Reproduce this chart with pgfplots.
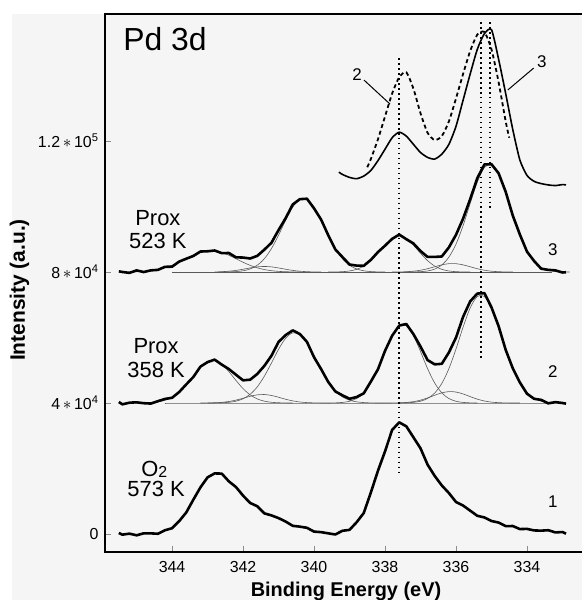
\documentclass[border=0pt]{standalone}
\usepackage{fontspec}
\setmainfont{Liberation Sans}
\usepackage{pgfplots}
\usepackage{pgfplotstable}
\pgfplotsset{compat=1.18}
\newcommand{\fs}[1]{\fontsize{#1}{#1}\selectfont}
\tikzset{lab/.style={anchor=base, inner sep=0pt}}

% binding energy, O2 573 K (1), Prox 358 K (2), Prox 523 K (3)
\pgfplotstableread{
x s1 s2 s3
345.5 300 40300 80210
345.4 -200 39600 80016
345.2 100 40100 79741
345.0 -400 40210 80495
344.8 200 39945 80000
344.6 190 39830 80506
344.4 70 40550 80654
344.2 1140 41245 81587
344.0 1760 41590 81635
343.8 3920 43350 83190
343.6 6580 45690 84060
343.4 10500 47955 84915
343.2 14250 51120 86260
343.0 17300 52495 86335
342.8 18500 53250 86574
342.6 18440 51720 85766
342.4 16070 50370 85808
342.2 14340 48640 84491
342.0 11720 46930 84418
341.8 9470 47120 84130
341.6 8480 48860 84931
341.4 6300 51340 86824
341.2 5680 54440 88935
341.0 4850 58640 92800
340.8 3800 60750 96445
340.6 2490 62180 100637
340.4 2250 61070 102249
340.2 1890 58680 102391
340.0 730 53985 99439
339.8 560 50340 96000
339.6 200 46430 91250
339.4 -150 43530 86887
339.2 980 42350 84579
339.0 1260 41290 82289
338.8 3590 41830 81965
338.6 6380 42930 81893
338.4 12640 46540 83700
338.2 19280 50260 86087
338.0 25230 55925 88039
337.8 31770 60540 90130
337.6 34100 63650 91434
337.4 32880 64125 90031
337.2 29530 61040 88724
337.0 26160 57240 86400
336.8 21160 53100 84606
336.6 17730 51810 84612
336.4 14820 51970 84752
336.2 12500 55440 87524
336.0 9770 59980 91374
335.8 8680 66320 96309
335.6 7120 71040 102262
335.4 5560 73420 108667
335.2 5050 73560 112857
335.0 3970 69210 112920
334.8 3490 63475 110164
334.6 2410 56234 104488
334.4 2430 50590 97223
334.2 1500 46270 91454
334.0 1560 42840 86236
333.8 1090 41290 83368
333.6 1020 40950 81019
333.4 1150 39900 80661
333.2 480 40265 80498
333.0 600 40000 79859
332.9 100 39800 79930
}\spectra

\begin{document}
\begin{tikzpicture}
\fill[black!4] (-93bp,-48bp) rectangle (477bp,538bp);
\begin{axis}[name=ax, at={(0,0)}, anchor=south west,
  scale only axis, width=477bp, height=538bp,
  xmin=332.45, xmax=345.89, x dir=reverse,
  ymin=-5500, ymax=158800,
  axis line style={draw=none}, tick pos=left, tick align=inside,
  xtick={334,336,338,340,342,344}, scaled x ticks=false,
  ytick={0,40000,80000,120000}, scaled y ticks=false,
  yticklabels={0, 4\,$\ast$\,10\textsuperscript{4}, 8\,$\ast$\,10\textsuperscript{4}, 1.2\,$\ast$\,10\textsuperscript{5}},
  major tick length=6bp, major tick style={black!45, line width=0.8pt},
  /pgf/number format/assume math mode=true,
  xticklabel style={font=\fs{16}, yshift=-6bp},
  yticklabel style={font=\fs{16}, xshift=-3bp},
  clip=false,
  comp/.style={black!65, line width=0.6pt, smooth},
  data/.style={black, line width=2.6pt, line join=round},
  dotline/.style={black, line width=1.6pt, dash pattern=on 1.6pt off 3.4pt}]

% fit baselines
\addplot[comp] coordinates {(344.2,40000) (333.4,40000)};
\addplot[comp] coordinates {(344.0,80000) (333.3,80000)};

% fit components, Prox 358 K
\addplot[comp] coordinates {(345.2,40000)(345.0,40010)(344.8,40045)(344.6,40130)(344.4,40350)(344.2,40845)(344.0,41790)(343.8,43350)(343.6,45590)(343.4,48255)(343.2,50820)(343.0,52570)(342.8,52950)(342.6,51840)(342.4,49590)(342.2,46900)(342.0,44390)(341.8,42500)(341.6,41250)(341.4,40560)(341.2,40220)(341.0,40080)(340.8,40020)(340.6,40000)};
\addplot[comp] coordinates {(343.2,40000)(343.0,40025)(342.8,40078)(342.6,40200)(342.4,40460)(342.2,40880)(342.0,41450)(341.8,42050)(341.6,42490)(341.4,42590)(341.2,42310)(341.0,41760)(340.8,41150)(340.6,40650)(340.4,40310)(340.2,40130)(340.0,40045)(339.8,40013)(339.6,40000)};
\addplot[comp] coordinates {(343.0,40000)(342.8,40020)(342.6,40080)(342.4,40220)(342.2,40560)(342.0,41290)(341.8,42670)(341.6,44920)(341.4,48190)(341.2,52210)(341.0,56400)(340.8,59780)(340.6,61430)(340.4,60860)(340.2,58250)(340.0,54340)(339.8,50130)(339.6,46430)(339.4,43680)(339.2,41870)(339.0,40860)(338.8,40360)(338.6,40130)(338.4,40040)(338.2,40000)};
\addplot[comp] coordinates {(339.6,40000)(339.4,40050)(339.2,40180)(339.0,40530)(338.8,41370)(338.6,43100)(338.4,46100)(338.2,50460)(338.0,55720)(337.8,60620)(337.6,63590)(337.4,63590)(337.2,60620)(337.0,55720)(336.8,50460)(336.6,46100)(336.4,43100)(336.2,41370)(336.0,40530)(335.8,40180)(335.6,40050)(335.4,40000)};
\addplot[comp] coordinates {(338.2,40000)(338.0,40005)(337.8,40018)(337.6,40060)(337.4,40170)(337.2,40420)(337.0,40870)(336.8,41550)(336.6,42370)(336.4,43100)(336.2,43480)(336.0,43350)(335.8,42770)(335.6,41950)(335.4,41180)(335.2,40620)(335.0,40270)(334.8,40105)(334.6,40034)(334.4,40010)(334.2,40000)};
\addplot[comp] coordinates {(337.6,40000)(337.4,40065)(337.2,40200)(337.0,40550)(336.8,41390)(336.6,43040)(336.4,45970)(336.2,50490)(336.0,56500)(335.8,63170)(335.6,69040)(335.4,72540)(335.2,72540)(335.0,69040)(334.8,63170)(334.6,56500)(334.4,50490)(334.2,45970)(334.0,43040)(333.8,41390)(333.6,40550)(333.4,40200)(333.2,40065)(333.0,40020)};

% fit components, Prox 523 K
\addplot[comp] coordinates {(345.2,80041)(345.0,80095)(344.8,80200)(344.6,80406)(344.4,80754)(344.2,81287)(344.0,82035)(343.8,82990)(343.6,84060)(343.4,85115)(343.2,85960)(343.0,86435)(342.8,86435)(342.6,85960)(342.4,85115)(342.2,84060)(342.0,82990)(341.8,82035)(341.6,81287)(341.4,80754)(341.2,80406)(341.0,80200)(340.8,80095)(340.6,80041)(340.4,80016)};
\addplot[comp] coordinates {(342.8,80039)(342.6,80106)(342.4,80248)(342.2,80496)(342.0,80850)(341.8,81250)(341.6,81574)(341.4,81700)(341.2,81574)(341.0,81250)(340.8,80850)(340.6,80496)(340.4,80248)(340.2,80106)(340.0,80039)(339.8,80010)};
\addplot[comp] coordinates {(342.6,80000)(342.4,80045)(342.2,80135)(342.0,80378)(341.8,80945)(341.6,82070)(341.4,84070)(341.2,87155)(341.0,91250)(340.8,95800)(340.6,99800)(340.4,102185)(340.2,102185)(340.0,99800)(339.8,95800)(339.6,91250)(339.4,87155)(339.2,84070)(339.0,82070)(338.8,80945)(338.6,80378)(338.4,80135)(338.2,80045)(338.0,80000)};
\addplot[comp] coordinates {(339.6,80000)(339.4,80032)(339.2,80109)(339.0,80319)(338.8,80820)(338.6,81815)(338.4,83465)(338.2,85742)(338.0,88239)(337.8,90230)(337.6,91000)(337.4,90230)(337.2,88239)(337.0,85742)(336.8,83465)(336.6,81815)(336.4,80820)(336.2,80319)(336.0,80109)(335.8,80032)(335.6,80000)};
\addplot[comp] coordinates {(337.8,80010)(337.6,80034)(337.4,80101)(337.2,80252)(337.0,80546)(336.8,81011)(336.6,81607)(336.4,82187)(336.2,82551)(336.0,82551)(335.8,82187)(335.6,81607)(335.4,81011)(335.2,80546)(335.0,80252)(334.8,80101)(334.6,80034)(334.4,80010)};
\addplot[comp] coordinates {(337.4,80000)(337.2,80033)(337.0,80112)(336.8,80330)(336.6,80890)(336.4,82145)(336.2,84554)(336.0,88514)(335.8,94190)(335.6,100955)(335.4,107456)(335.2,111911)(335.0,112868)(334.8,110063)(334.6,104354)(334.4,97523)(334.2,91154)(334.0,86336)(333.8,83168)(333.6,81419)(333.4,80561)(333.2,80198)(333.0,80059)(332.8,80010)};

% measured spectra
\addplot[data] table[x=x, y=s1] {\spectra};
\addplot[data] table[x=x, y=s2] {\spectra};
\addplot[data] table[x=x, y=s3] {\spectra};

% overlay of 2 (dashed) and 3 (solid)
\addplot[black, line width=1.6pt, smooth, tension=0.4] coordinates {(339.3,110500)(339.2,109800)(339.0,108900)(338.8,108500)(338.6,109300)(338.4,111000)(338.2,114000)(338.0,117500)(337.8,121000)(337.6,122700)(337.4,121500)(337.2,119000)(337.0,116500)(336.8,115000)(336.6,114500)(336.4,116000)(336.2,119000)(336.0,124500)(335.8,132500)(335.6,140500)(335.4,148000)(335.2,152800)(335.0,154000)(334.8,145000)(334.6,134500)(334.4,123500)(334.2,114200)(334.0,109500)(333.8,107700)(333.6,107000)(333.4,106600)(333.2,106400)(333.0,106700)(332.9,106600)};
\addplot[black, line width=1.8pt, dash pattern=on 4pt off 3pt, smooth, tension=0.4] coordinates {(338.5,112000)(338.4,114500)(338.2,120500)(338.0,127500)(337.8,134500)(337.6,139500)(337.4,141000)(337.2,136000)(337.0,128500)(336.8,122500)(336.6,120300)(336.4,121500)(336.2,126000)(336.0,133000)(335.8,140500)(335.6,147500)(335.4,152500)(335.2,153300)(335.0,148000)(334.8,138000)(334.6,126000)(334.5,121000)};

% peak position guides
\addplot[dotline] coordinates {(337.6,145300) (337.6,18000)};
\addplot[dotline] coordinates {(335.3,156300) (335.3,53700)};
\addplot[dotline] coordinates {(335.05,156300) (335.05,98900)};

\draw[line width=1pt] (axis cs:338.59,138600) -- (axis cs:337.86,131300);
\draw[line width=1pt] (axis cs:333.81,142300) -- (axis cs:334.54,135600);

\node[lab, anchor=base west, font=\fs{32}] at (axis cs:345.38,147600) {Pd 3d};
\node[lab, font=\fs{22}] at (axis cs:344.40,94340) {Prox};
\node[lab, font=\fs{22}] at (axis cs:344.40,87320) {523 K};
\node[lab, font=\fs{22}] at (axis cs:344.45,55260) {Prox};
\node[lab, font=\fs{22}] at (axis cs:344.45,47930) {358 K};
\node[lab, font=\fs{22}] at (axis cs:344.50,17700) {O\raisebox{-0.05em}{\fs{16}2}};
\node[lab, font=\fs{22}] at (axis cs:344.45,11300) {573 K};
\node[lab, font=\fs{17}] at (axis cs:333.27,85180) {3};
\node[lab, font=\fs{17}] at (axis cs:333.27,47930) {2};
\node[lab, font=\fs{17}] at (axis cs:333.27,7940) {1};
\node[lab, font=\fs{17}] at (axis cs:338.79,138600) {2};
\node[lab, font=\fs{17}] at (axis cs:333.58,142600) {3};
\end{axis}
\draw[line width=1.5pt] (ax.south east) -- (ax.south west) -- (ax.north west) -- (ax.north east);
\node[anchor=base, font=\bfseries\fs{20}] at (241bp,-44bp) {Binding Energy (eV)};
\node[rotate=90, anchor=base, font=\bfseries\fs{21}] at (-80bp,262bp) {Intensity (a.u.)};
\pgfresetboundingbox
\path[use as bounding box] (-105bp,-48bp) rectangle (477bp,552bp);
\end{tikzpicture}
\end{document}
